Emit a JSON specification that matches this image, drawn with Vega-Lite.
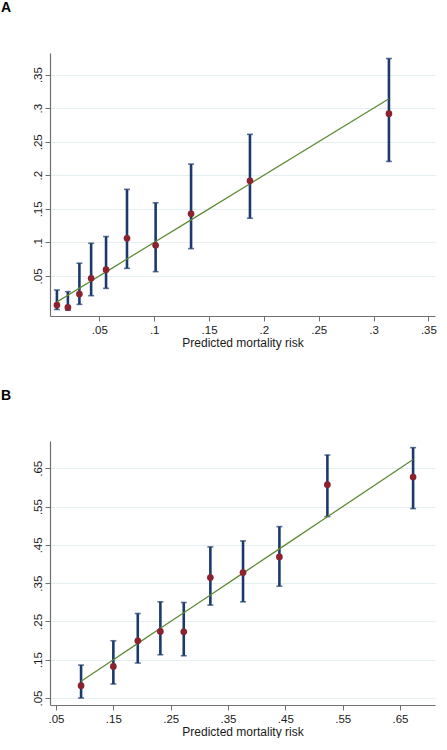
{
  "$schema": "https://vega.github.io/schema/vega-lite/v6.json",
  "padding": {"left": 1, "top": 1, "right": 0, "bottom": 0},
  "background": "white",
  "spacing": 40,
  "datasets": {
    "A": [
      {"pred": 0.0113, "obs": 0.0067, "lo": 0.0, "hi": 0.029},
      {"pred": 0.0213, "obs": 0.003, "lo": -0.001, "hi": 0.0266},
      {"pred": 0.0318, "obs": 0.023, "lo": 0.0076, "hi": 0.069},
      {"pred": 0.0425, "obs": 0.0464, "lo": 0.0206, "hi": 0.0987},
      {"pred": 0.0561, "obs": 0.0594, "lo": 0.0315, "hi": 0.1087},
      {"pred": 0.0752, "obs": 0.106, "lo": 0.0613, "hi": 0.179},
      {"pred": 0.1013, "obs": 0.0957, "lo": 0.0564, "hi": 0.159},
      {"pred": 0.1336, "obs": 0.1425, "lo": 0.0907, "hi": 0.2166},
      {"pred": 0.1873, "obs": 0.1918, "lo": 0.136, "hi": 0.261},
      {"pred": 0.314, "obs": 0.2918, "lo": 0.2206, "hi": 0.374}
    ],
    "B": [
      {"pred": 0.0937, "obs": 0.0821, "lo": 0.05, "hi": 0.136},
      {"pred": 0.15, "obs": 0.1325, "lo": 0.0865, "hi": 0.1995},
      {"pred": 0.1926, "obs": 0.1995, "lo": 0.1413, "hi": 0.2707},
      {"pred": 0.232, "obs": 0.2238, "lo": 0.163, "hi": 0.3012},
      {"pred": 0.2728, "obs": 0.223, "lo": 0.1604, "hi": 0.2995},
      {"pred": 0.3192, "obs": 0.3646, "lo": 0.2926, "hi": 0.4447},
      {"pred": 0.3762, "obs": 0.3777, "lo": 0.3012, "hi": 0.4604},
      {"pred": 0.4396, "obs": 0.4186, "lo": 0.3422, "hi": 0.4977},
      {"pred": 0.5233, "obs": 0.6073, "lo": 0.5238, "hi": 0.6847},
      {"pred": 0.6728, "obs": 0.6273, "lo": 0.5447, "hi": 0.704}
    ]
  },
  "vconcat": [
    {
      "width": 385,
      "height": 263,
      "data": {"name": "A"},
      "title": {"text": "A", "anchor": "start", "frame": "group", "dx": -49, "offset": 38, "fontSize": 14, "fontWeight": "bold", "font": "Liberation Sans", "color": "#000"},
      "layer": [
        {
          "mark": {"type": "errorbar", "color": "#1b3a6b", "thickness": 2.6, "ticks": {"size": 6, "thickness": 1.6, "color": "#1b3a6b"}},
          "encoding": {
            "x": {"field": "pred", "type": "quantitative", "scale": {"domain": [0.005, 0.356], "nice": false, "zero": false},
              "axis": {"values": [0.05, 0.1, 0.15, 0.2, 0.25, 0.3, 0.35], "title": "Predicted mortality risk", "grid": false}},
            "y": {"field": "lo", "type": "quantitative", "scale": {"domain": [-0.0097, 0.3822], "nice": false, "zero": false},
              "axis": {"values": [0.05, 0.1, 0.15, 0.2, 0.25, 0.3, 0.35], "title": null, "grid": true}},
            "y2": {"field": "hi"}
          }
        },
        {
          "mark": {"type": "line", "color": "#5e8a35", "strokeWidth": 1.3},
          "encoding": {
            "x": {"field": "pred", "type": "quantitative"},
            "y": {"field": "pred", "type": "quantitative"}
          }
        },
        {
          "mark": {"type": "point", "filled": true, "color": "#8c2230", "size": 45, "opacity": 1},
          "encoding": {
            "x": {"field": "pred", "type": "quantitative"},
            "y": {"field": "obs", "type": "quantitative"}
          }
        }
      ]
    },
    {
      "width": 385,
      "height": 264,
      "data": {"name": "B"},
      "title": {"text": "B", "anchor": "start", "frame": "group", "dx": -49, "offset": 38, "fontSize": 14, "fontWeight": "bold", "font": "Liberation Sans", "color": "#000"},
      "layer": [
        {
          "mark": {"type": "errorbar", "color": "#1b3a6b", "thickness": 2.6, "ticks": {"size": 6, "thickness": 1.6, "color": "#1b3a6b"}},
          "encoding": {
            "x": {"field": "pred", "type": "quantitative", "scale": {"domain": [0.0395, 0.711], "nice": false, "zero": false},
              "axis": {"values": [0.05, 0.15, 0.25, 0.35, 0.45, 0.55, 0.65], "title": "Predicted mortality risk", "grid": false}},
            "y": {"field": "lo", "type": "quantitative", "scale": {"domain": [0.0317, 0.7213], "nice": false, "zero": false},
              "axis": {"values": [0.05, 0.15, 0.25, 0.35, 0.45, 0.55, 0.65], "title": null, "grid": true}},
            "y2": {"field": "hi"}
          }
        },
        {
          "mark": {"type": "line", "color": "#5e8a35", "strokeWidth": 1.3},
          "encoding": {
            "x": {"field": "pred", "type": "quantitative"},
            "y": {"field": "pred", "type": "quantitative"}
          }
        },
        {
          "mark": {"type": "point", "filled": true, "color": "#8c2230", "size": 45, "opacity": 1},
          "encoding": {
            "x": {"field": "pred", "type": "quantitative"},
            "y": {"field": "obs", "type": "quantitative"}
          }
        }
      ]
    }
  ],
  "config": {
    "view": {"stroke": null},
    "font": "Liberation Sans",
    "axis": {
      "labelFont": "Liberation Sans",
      "labelFontSize": 11.5,
      "labelColor": "#1a1a1a",
      "titleFont": "Liberation Sans",
      "titleFontSize": 12,
      "titleFontWeight": "normal",
      "titleColor": "#1a1a1a",
      "domainColor": "#707070",
      "domainWidth": 1.2,
      "tickColor": "#707070",
      "tickSize": 5,
      "gridColor": "#e6eff2",
      "gridWidth": 1.2,
      "labelExpr": "replace(format(datum.value, '.2~f'), '0.', '.')"
    },
    "axisX": {"labelPadding": 3, "titlePadding": 2, "labelFlush": false},
    "axisY": {"labelAngle": 270, "labelAlign": "center", "labelBaseline": "bottom", "labelPadding": 2, "labelFlush": false}
  }
}
